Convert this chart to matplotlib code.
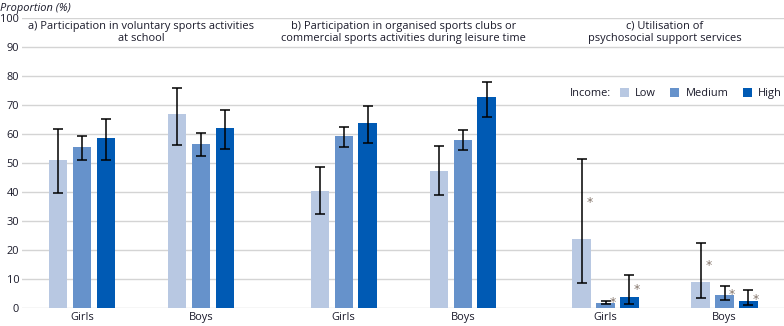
import matplotlib
matplotlib.use("Agg")
import matplotlib.pyplot as plt
from matplotlib.patches import Patch

plt.rcParams['font.family'] = ['Open Sans', 'DejaVu Sans']

# ---- data ----
panel_titles = ["a) Participation in voluntary sports activities\nat school",
                "b) Participation in organised sports clubs or\ncommercial sports activities during leisure time",
                "c) Utilisation of\npsychosocial support services"]
groups = ["Girls", "Boys"]
income_levels = ["Low", "Medium", "High"]
# values per panel: [Girls, Boys] x [Low, Medium, High]
values_a = [[50.9, 55.4, 58.5], [66.8, 56.4, 61.9]]
lower_a  = [[39.7, 51.1, 51.1], [56.3, 52.5, 54.9]]
upper_a  = [[61.7, 59.4, 65.3], [75.7, 60.4, 68.4]]
values_b = [[40.5, 59.2, 63.7], [47.4, 58.1, 72.7]]
lower_b  = [[32.4, 55.6, 57.0], [39.0, 54.6, 66.0]]
upper_b  = [[48.7, 62.5, 69.8], [55.9, 61.5, 78.1]]
values_c = [[23.9, 1.7, 3.8], [9.0, 4.5, 2.4]]
lower_c  = [[8.5, 1.3, 1.3], [3.3, 2.7, 0.9]]
upper_c  = [[51.4, 2.3, 11.3], [22.4, 7.5, 6.2]]
flagged_c = [[True, True, True], [True, True, True]]
yticks = list(range(0, 101, 10))

colors = ["#b8c8e2", "#6692cb", "#005ab4"]
text_c = "#1a1a2a"
fs = 7.9

fig = plt.figure(figsize=(7.84, 3.26), dpi=100)
ax = fig.add_axes([22/784, 18/326, 1 - 22/784, (308-18)/326])

panel_vals = [(values_a, lower_a, upper_a), (values_b, lower_b, upper_b), (values_c, lower_c, upper_c)]
panel_start = [0.0, 2.2, 4.4]
bw = 0.155
off = 0.2
centers = []
for p, (vals, lo, hi) in enumerate(panel_vals):
    for g in range(2):
        c = panel_start[p] + g
        centers.append(c)
        for k in range(3):
            x = c + (k - 1) * off
            v = vals[g][k]
            ax.bar(x, v, width=bw, color=colors[k], zorder=2)
            ax.errorbar(x, v, yerr=[[v - lo[g][k]], [hi[g][k] - v]], fmt='none',
                        ecolor='black', elinewidth=1.1, capsize=3.3, capthick=1.1, zorder=3)
            if p == 2 and flagged_c[g][k]:
                ax.text(x + 0.065, max((v + hi[g][k]) / 2, v + 1.5) - 1.2, "*", color="#85766c",
                        fontsize=9, ha='center', va='center', zorder=4, family='DejaVu Sans')
    ax.text(panel_start[p] + 0.5, 95, panel_titles[p], ha='center', va='center',
            fontsize=fs, color=text_c, linespacing=1.15)

ax.set_xlim(-0.504, 5.9)
ax.set_ylim(0, 100)
ax.set_yticks(yticks)
ax.set_yticklabels([str(t) for t in yticks], fontsize=fs, color=text_c)
ax.set_xticks(centers)
ax.set_xticklabels(groups * 3, fontsize=fs, color=text_c)
ax.tick_params(axis='both', length=0)
ax.tick_params(axis='y', pad=2)
ax.tick_params(axis='x', pad=3)
for s in ax.spines.values():
    s.set_visible(False)
ax.grid(axis='y', color='#d4d4d4', linewidth=1, zorder=0)
ax.set_axisbelow(True)

fig.text(0.5/784, 318/326, "Proportion (%)", fontsize=fs, style='italic', color=text_c,
         ha='left', va='center')

# legend
ax.text(4.10, 74.0, "Income:", fontsize=fs, color=text_c, ha='left', va='center')
handles = [Patch(facecolor=c, edgecolor='none') for c in colors]
leg = ax.legend(handles, income_levels, loc='center right',
                bbox_to_anchor=(1.0, 0.740), ncol=3, frameon=False, fontsize=fs,
                handlelength=0.85, handleheight=0.85, handletextpad=0.55, columnspacing=1.3,
                borderaxespad=0.0, borderpad=0.2)
for t in leg.get_texts():
    t.set_color(text_c)

fig.savefig("out.png", dpi=100)
